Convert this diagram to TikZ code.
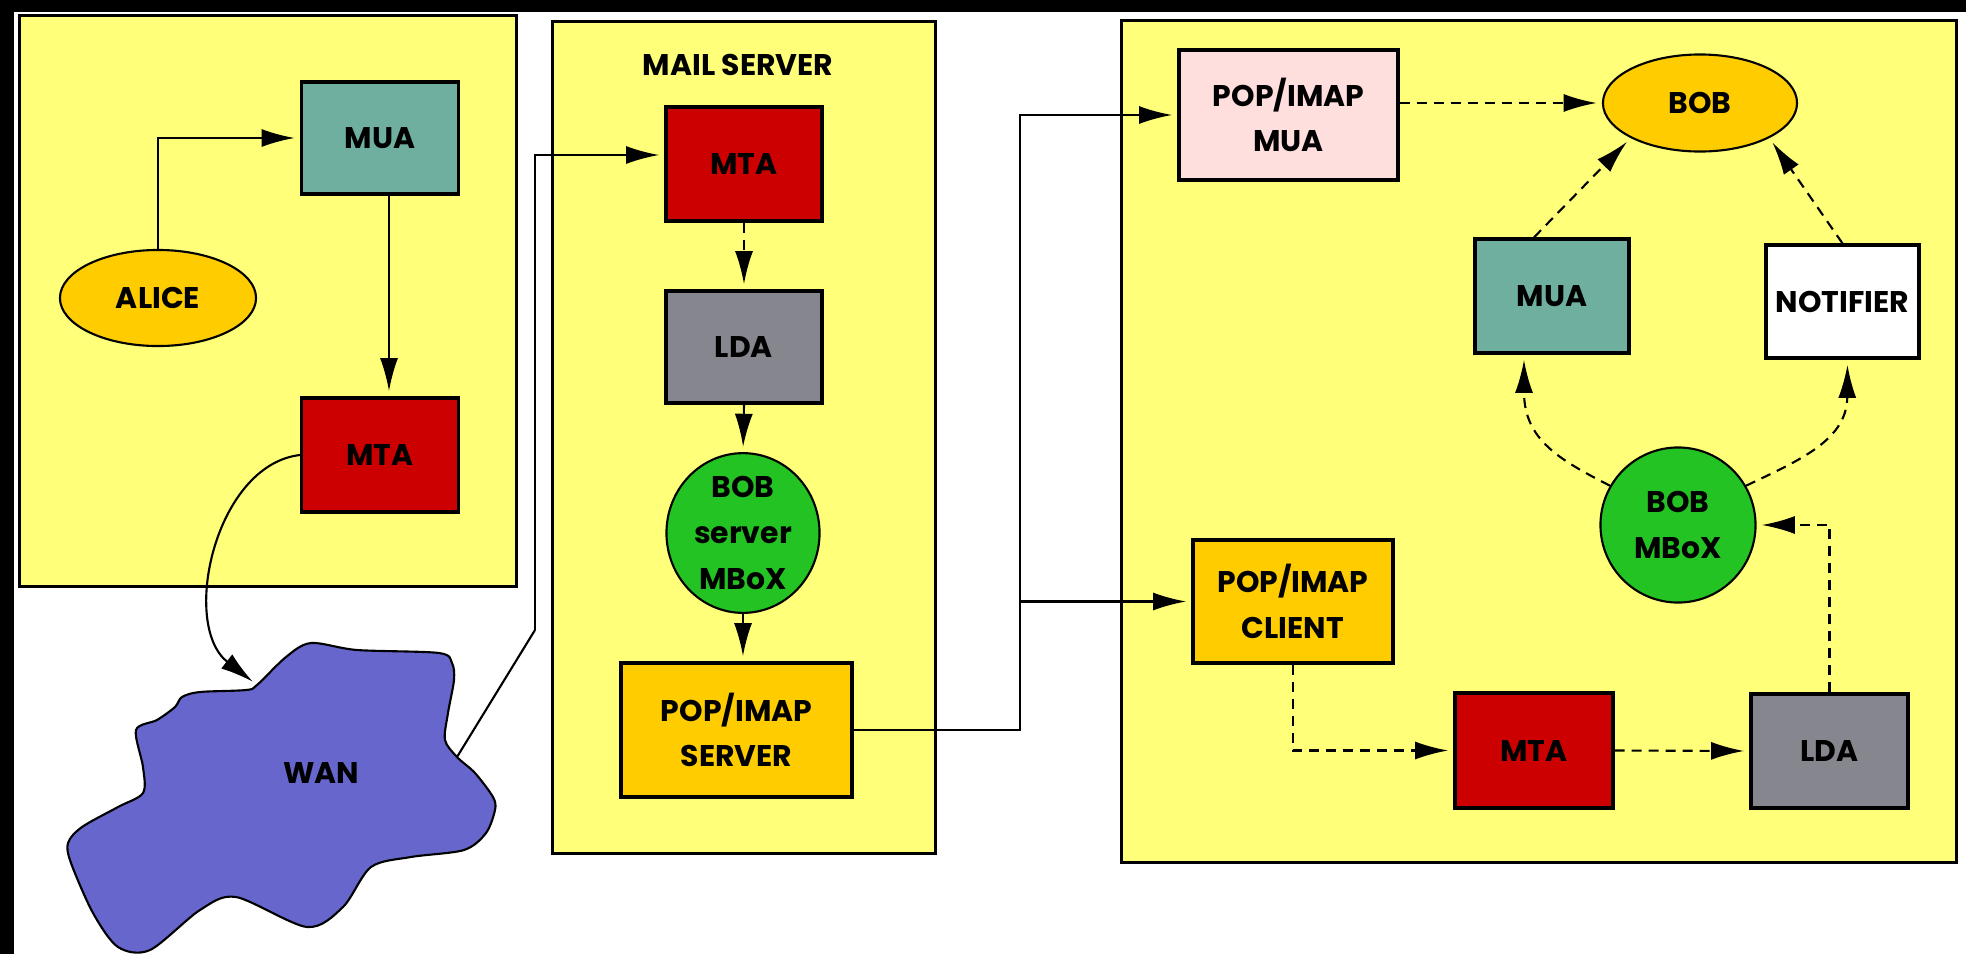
\documentclass[tikz,border=0pt]{standalone}
\usepackage{fontspec}
\setmainfont{Poppins}
\usetikzlibrary{arrows.meta,shapes.geometric}

\definecolor{paneyellow}{HTML}{FFFF7A}
\definecolor{muateal}{HTML}{6FAFA0}
\definecolor{mtared}{HTML}{CC0000}
\definecolor{ldagray}{HTML}{86868E}
\definecolor{mboxgreen}{HTML}{22C322}
\definecolor{popgold}{HTML}{FFCC00}
\definecolor{popink}{HTML}{FFDEDE}
\definecolor{wanblue}{HTML}{6666CC}

\begin{document}
\begin{tikzpicture}[
  x=0.01cm, y=-0.01cm,
  font=\fontsize{8.5}{13}\selectfont\bfseries,
  pane/.style={rectangle, draw=black, line width=0.9pt, fill=paneyellow, inner sep=0pt},
  box/.style={
    rectangle, draw=black, line width=0.9pt,
    minimum width=1.57cm, minimum height=1.14cm,
    align=center, inner sep=0pt,
  },
  mua/.style={box, fill=muateal},
  mta/.style={box, fill=mtared},
  lda/.style={box, fill=ldagray},
  popbox/.style={box, fill=popgold},
  person/.style={ellipse, draw=black, line width=0.6pt, fill=popgold, inner sep=0pt},
  mbox/.style={ellipse, draw=black, line width=0.6pt, fill=mboxgreen,
               align=center, inner sep=0pt},
  flow/.style={-{Latex[length=3.3mm,width=1.8mm]}, line width=0.6pt, shorten >=1.5pt},
  dflow/.style={flow, dash pattern=on 1mm off 0.7mm},
]
\useasboundingbox[fill=white] (0,0) rectangle (1966,954);
\fill[black] (0,0) rectangle (1966,12);
\fill[black] (0,0) rectangle (14,954);

% panes
\node[pane, minimum width=4.96cm, minimum height=5.70cm] (sender) at (268,301) {};
\node[pane, minimum width=3.82cm, minimum height=8.31cm] (server) at (744,437.5) {};
\node[pane, minimum width=8.34cm, minimum height=8.41cm] (receiver) at (1539,441.5) {};

% sender side
\node[person, minimum width=1.96cm, minimum height=0.96cm] (alice) at (158,298) {ALICE};
\node[mua, minimum height=1.12cm] (mua1) at (380,138) {MUA};
\node[mta] (mta1) at (380,455) {MTA};

% wan
\fill[wanblue, draw=black, line width=0.6pt] plot[smooth cycle, tension=0.5] coordinates {
  (257,685) (286,657) (311,643) (357,650) (439,653) (452,663) (454,680)
  (448,713) (445,740) (457,757) (475,773) (493,797) (495,810) (486,833)
  (464,850) (411,857) (371,867) (343,907) (307,927) (236,897) (200,910)
  (150,950) (118,947) (93,913) (71,863) (68,843) (82,827) (118,807)
  (143,793) (143,767) (136,730) (157,720) (175,707) (182,697) (200,692)
  (246,690)};
\node (wan) at (321,773) {WAN};
\coordinate (wanin) at (257,685);
\coordinate (wanout) at (457,757);
\coordinate (bend) at (535,630);

% mail server
\node (mstitle) at (738,65) {MAIL SERVER};
\node[mta, minimum width=1.56cm] (mta2) at (744,164) {MTA};
\node[lda, minimum width=1.56cm, minimum height=1.12cm] (lda2) at (744,347) {LDA};
\node[mbox, minimum width=1.53cm, minimum height=1.50cm] (mbox2) at (743,533) {BOB\\server\\MBoX};
\node[popbox, minimum width=2.31cm, minimum height=1.34cm] (popsrv) at (736.5,730) {POP/IMAP\\SERVER};

% receiver side
\node[box, fill=popink, minimum width=2.19cm, minimum height=1.30cm] (popmua) at (1288.5,115) {POP/IMAP\\MUA};
\node[person, minimum width=1.94cm, minimum height=0.97cm] (bob) at (1700,103) {BOB};
\node[mua, minimum width=1.54cm] (mua3) at (1552,296) {MUA};
\node[box, fill=white, minimum width=1.53cm, minimum height=1.13cm] (notif) at (1842.5,301.5) {NOTIFIER};
\node[mbox, minimum width=1.55cm, minimum height=1.55cm] (mbox3) at (1678,525) {BOB\\MBoX};
\node[popbox, minimum width=2.00cm, minimum height=1.23cm] (popcli) at (1293,601.5) {POP/IMAP\\CLIENT};
\node[mta, minimum width=1.58cm, minimum height=1.15cm] (mta3) at (1534,750.5) {MTA};
\node[lda] (lda3) at (1829.5,751) {LDA};
\coordinate (split) at (1020,730);

\draw[flow] (alice.north) |- (mua1.west);
\draw[flow] ([xshift=0.09cm]mua1.south) -- ([xshift=0.09cm]mta1.north);
\draw[flow] (mta1.west) .. controls (215,465) and (180,625) .. (wanin);
\draw[line width=0.6pt] (wanout) -- (bend);
\draw[flow] (bend) |- ([yshift=0.09cm]mta2.west);

\draw[dflow] (mta2.south) -- (lda2.north);
\draw[flow] (lda2.south) -- (mbox2.north);
\draw[dflow] (mbox2.south) -- (mbox2.south |- popsrv.north);

\draw[flow] (popsrv.east) -- (split) |- (popmua.west);
\draw[flow] (split |- popcli.west) -- (popcli.west);

\draw[dflow] (popmua.east |- bob.west) -- (bob.west);
\draw[dflow] ([xshift=-0.18cm]mua3.north) -- (bob.south west);
\draw[dflow] (notif.north) -- (bob.south east);
\draw[dflow] (mbox3.150) .. controls (1560,460) and (1524,440) .. ([xshift=-0.28cm]mua3.south);
\draw[dflow] (mbox3.30) .. controls (1800,460) and (1847,440) .. ([xshift=0.05cm]notif.south);
\draw[dflow] (popcli.south) |- (mta3.west);
\draw[dflow] (mta3.east) -- (lda3.west);
\draw[dflow] (lda3.north) |- (mbox3.east);
\end{tikzpicture}
\end{document}
